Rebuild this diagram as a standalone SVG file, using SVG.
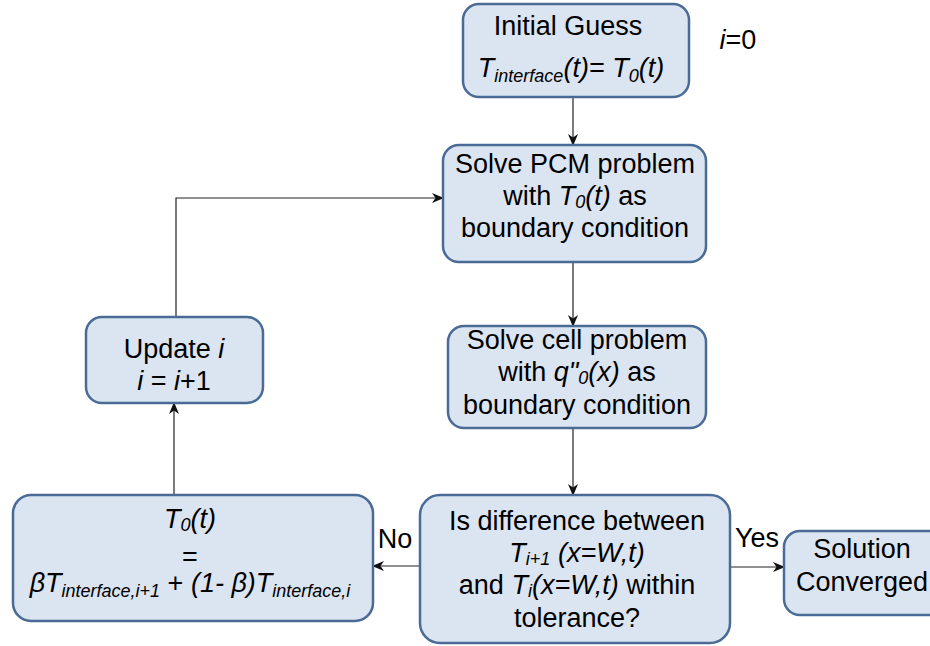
<svg xmlns="http://www.w3.org/2000/svg" width="930" height="646" viewBox="0 0 930 646">
<style>
.box{fill:#dbe4f1;stroke:#4a6b95;stroke-width:2.5}
.t{font-family:"Liberation Sans",Arial,sans-serif;font-size:27px;fill:#000;text-anchor:middle}
.it{font-style:italic}
.sub{font-size:18px}
.c{fill:none;stroke:#222;stroke-width:1.2}
</style>
<defs>
<marker id="ah" viewBox="0 0 12 10" refX="11" refY="5" markerWidth="12" markerHeight="10" markerUnits="userSpaceOnUse" orient="auto">
<path d="M0,0 L12,5 L0,10 L3.5,5 Z" fill="#111"/>
</marker>
</defs>
<rect width="930" height="646" fill="#fff"/>
<g id="connectors">
<path class="c" d="M573,97 V145" marker-end="url(#ah)"/>
<path class="c" d="M573,262 V326" marker-end="url(#ah)"/>
<path class="c" d="M573,428 V495" marker-end="url(#ah)"/>
<path class="c" d="M730,567 H784" marker-end="url(#ah)"/>
<path class="c" d="M420,566 H373" marker-end="url(#ah)"/>
<path class="c" d="M174,495 V403" marker-end="url(#ah)"/>
<path class="c" d="M176,317 V198 H443" marker-end="url(#ah)"/>
<text class="t" x="395" y="548">No</text>
<text class="t" x="757" y="547">Yes</text>
</g>
<g id="initial">
<rect class="box" x="463" y="4" width="226" height="93" rx="16"/>
<text class="t" x="568" y="35">Initial Guess</text>
<text class="t it" x="571" y="77">T<tspan class="sub" dy="5">interface</tspan><tspan dy="-5">(t)= T</tspan><tspan class="sub" dy="5">0</tspan><tspan dy="-5">(t)</tspan></text>
</g>
<g id="i0">
<text class="t" x="738" y="49"><tspan class="it">i</tspan>=0</text>
</g>
<g id="pcm">
<rect class="box" x="443" y="145" width="263" height="117" rx="16"/>
<text class="t" x="575" y="173">Solve PCM problem</text>
<text class="t" x="575" y="205">with <tspan class="it">T</tspan><tspan class="sub it" dy="3">0</tspan><tspan class="it" dy="-3">(t)</tspan> as</text>
<text class="t" x="575" y="237">boundary condition</text>
</g>
<g id="cell">
<rect class="box" x="448" y="326" width="258" height="102" rx="16"/>
<text class="t" x="577" y="349">Solve cell problem</text>
<text class="t" x="577" y="381">with <tspan class="it">q"</tspan><tspan class="sub it" dy="3">0</tspan><tspan class="it" dy="-3">(x)</tspan> as</text>
<text class="t" x="577" y="414">boundary condition</text>
</g>
<g id="update">
<rect class="box" x="86" y="317" width="177" height="86" rx="16"/>
<text class="t" x="174" y="358">Update <tspan class="it">i</tspan></text>
<text class="t" x="174" y="390"><tspan class="it">i</tspan> = <tspan class="it">i</tspan>+1</text>
</g>
<g id="relax">
<rect class="box" x="13" y="495" width="360" height="126" rx="18"/>
<text class="t it" x="190" y="528">T<tspan class="sub" dy="3">0</tspan><tspan dy="-3">(t)</tspan></text>
<text class="t" x="190" y="566">=</text>
<text class="t it" x="190" y="592">βT<tspan class="sub" dy="5">interface,i+1</tspan><tspan dy="-5" font-style="normal"> + </tspan><tspan>(1- β)T</tspan><tspan class="sub" dy="5">interface,i</tspan></text>
</g>
<g id="decision">
<rect class="box" x="420" y="495" width="310" height="148" rx="20"/>
<text class="t" x="577" y="530">Is difference between</text>
<text class="t it" x="577" y="562">T<tspan class="sub" dy="3">i+1</tspan><tspan dy="-3"> (x=W,t)</tspan></text>
<text class="t" x="577" y="594">and <tspan class="it">T</tspan><tspan class="sub it" dy="3">i</tspan><tspan class="it" dy="-3">(x=W,t)</tspan> within</text>
<text class="t" x="577" y="627">tolerance?</text>
</g>
<g id="solution">
<rect class="box" x="784" y="531" width="160" height="84" rx="16"/>
<text class="t" x="862" y="558">Solution</text>
<text class="t" x="862" y="591">Converged</text>
</g>
</svg>
